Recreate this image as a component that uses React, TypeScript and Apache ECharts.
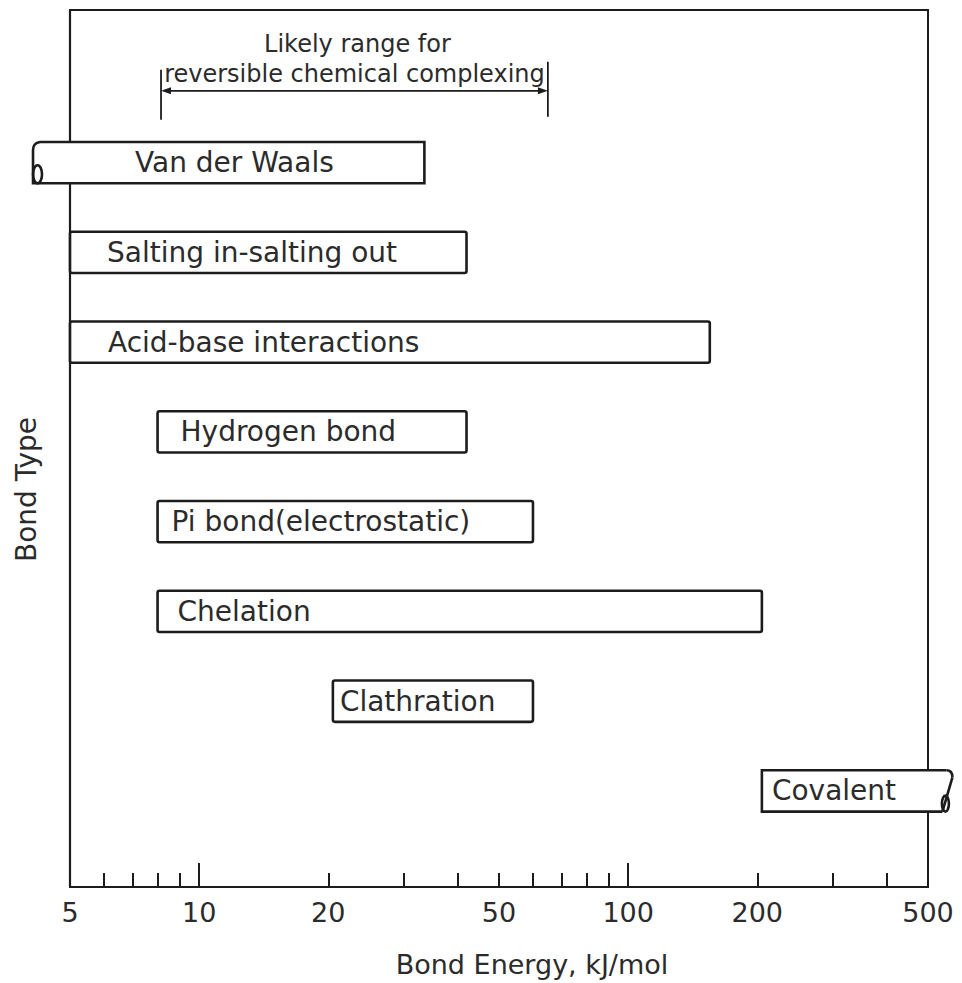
import React, { useEffect, useRef } from 'react';
import * as echarts from 'echarts';

// ---- data ----
const bondTypes = [
  'Van der Waals',
  'Salting in-salting out',
  'Acid-base interactions',
  'Hydrogen bond',
  'Pi bond(electrostatic)',
  'Chelation',
  'Clathration',
  'Covalent',
];
const energyLow = [4.1, 5, 5, 8, 8, 8, 20.5, 205];
const energyHigh = [33.5, 42, 155, 42, 60, 205, 60, 570];
const brokenEnd = ['left', '', '', '', '', '', '', 'right'];
const complexingRange = [8.15, 65];
const complexingText = ['Likely range for', 'reversible chemical complexing'];
const tickLabelValues = [5, 10, 20, 50, 100, 200, 500];
const majorTickValues = [10, 100];
const minorTickValues = [6, 7, 8, 9, 20, 30, 40, 50, 60, 70, 80, 90, 200, 300, 400];

// ---- styles ----
const INK = '#1c1c1c';
const TEXT = '#2b2b2b';
const FONT = 'DejaVu Sans';
const LABEL_PAD = [102, 37, 38, 23, 14, 20, 7, 10];

export default function App() {
  const ref = useRef<HTMLDivElement>(null);

  useEffect(() => {
    if (!ref.current) return;
    const chart = echarts.init(ref.current, undefined, { renderer: 'svg' });

    const barData = bondTypes.map((n, i) => [i, energyLow[i], energyHigh[i]]);

    const renderBar = (params: any, api: any) => {
      const i = api.value(0);
      const lo = api.coord([api.value(1), i]);
      const hi = api.coord([api.value(2), i]);
      const h = api.size([0, 1])[1] * 0.46;
      const x0 = lo[0];
      const x1 = hi[0];
      const yc = lo[1];
      const top = yc - h / 2;
      const bot = yc + h / 2;
      const lw = 2.6;
      const line = { stroke: INK, lineWidth: lw, fill: null };
      const children: any[] = [];
      const end = brokenEnd[i];
      if (end === 'left') {
        children.push({
          type: 'rect',
          shape: { x: x0, y: top, width: x1 - x0, height: h },
          style: { fill: '#fff', stroke: null },
        });
        children.push({
          type: 'polyline',
          shape: { points: [[x0 + 7, top], [x1, top], [x1, bot], [x0, bot], [x0, top + 8]] },
          style: { ...line },
        });
        children.push({
          type: 'bezierCurve',
          shape: { x1: x0, y1: top + 8, x2: x0 + 7, y2: top, cpx1: x0, cpy1: top + 1 },
          style: { ...line },
        });
        children.push({
          type: 'ellipse',
          shape: { cx: x0 + 4.5, cy: bot - 9, rx: 4.5, ry: 9 },
          style: { ...line },
        });
      } else if (end === 'right') {
        children.push({
          type: 'polygon',
          shape: { points: [[x0, top], [x1, top], [x1, top + 6], [x1 - 9, bot], [x0, bot]] },
          style: { fill: '#fff', stroke: null },
        });
        children.push({
          type: 'polyline',
          shape: { points: [[x1 - 6, top], [x0, top], [x0, bot], [x1 - 10, bot]] },
          style: { ...line },
        });
        children.push({
          type: 'bezierCurve',
          shape: { x1: x1 - 6, y1: top, x2: x1, y2: top + 7, cpx1: x1, cpy1: top },
          style: { ...line },
        });
        children.push({
          type: 'line',
          shape: { x1: x1, y1: top + 7, x2: x1 - 10, y2: bot },
          style: { ...line },
        });
        children.push({
          type: 'ellipse',
          shape: { cx: x1 - 7, cy: bot - 8, rx: 3.5, ry: 8 },
          style: { ...line },
        });
      } else {
        children.push({
          type: 'rect',
          shape: { x: x0, y: top, width: x1 - x0, height: h, r: 2 },
          style: { fill: '#fff', stroke: INK, lineWidth: lw },
        });
      }
      children.push({
        type: 'text',
        style: {
          text: bondTypes[i],
          x: x0 + LABEL_PAD[i],
          y: yc,
          verticalAlign: 'middle',
          align: 'left',
          fontSize: 28,
          fontFamily: FONT,
          fill: TEXT,
        },
      });
      return { type: 'group', children };
    };

    const renderRange = (params: any, api: any) => {
      const a = api.coord([api.value(0), api.value(2)]);
      const b = api.coord([api.value(1), api.value(2)]);
      const y = a[1];
      const xa = a[0];
      const xb = b[0];
      const mid = (xa + xb) / 2;
      const line = { stroke: INK, lineWidth: 1.8, fill: null };
      return {
        type: 'group',
        children: [
          { type: 'line', shape: { x1: xa, y1: y - 21, x2: xa, y2: y + 29 }, style: line },
          { type: 'line', shape: { x1: xb, y1: y - 29, x2: xb, y2: y + 26 }, style: line },
          { type: 'line', shape: { x1: xa + 6, y1: y, x2: xb - 6, y2: y }, style: line },
          { type: 'polygon', shape: { points: [[xa, y], [xa + 10, y - 3.5], [xa + 10, y + 3.5]] }, style: { fill: INK } },
          { type: 'polygon', shape: { points: [[xb, y], [xb - 10, y - 3.5], [xb - 10, y + 3.5]] }, style: { fill: INK } },
          {
            type: 'text',
            style: { text: complexingText[0], x: mid + 3, y: y - 47, align: 'center', verticalAlign: 'middle', fontSize: 24, fontFamily: FONT, fill: TEXT },
          },
          {
            type: 'text',
            style: { text: complexingText[1], x: mid, y: y - 17, align: 'center', verticalAlign: 'middle', fontSize: 24, fontFamily: FONT, fill: TEXT },
          },
        ],
      };
    };

    const logAxisBase = {
      type: 'log' as const,
      logBase: 10,
      min: 5,
      max: 500,
      gridIndex: 0,
      position: 'bottom' as const,
      splitLine: { show: false },
      minorTick: { show: false },
      minorSplitLine: { show: false },
    };

    chart.setOption({
      animation: false,
      backgroundColor: '#fff',
      grid: {
        left: 70,
        right: 34,
        top: 10,
        bottom: 95,
        show: true,
        borderColor: INK,
        borderWidth: 2,
        backgroundColor: 'transparent',
      },
      xAxis: [
        {
          ...logAxisBase,
          name: 'Bond Energy, kJ/mol',
          nameLocation: 'middle',
          nameGap: 64,
          nameTextStyle: { fontSize: 27, fontFamily: FONT, color: TEXT, padding: [0, 0, 0, 66] },
          axisLine: { show: true, onZero: false, lineStyle: { color: INK, width: 2.2 } },
          axisTick: { show: true, inside: true, length: 14, customValues: minorTickValues, lineStyle: { color: INK, width: 2 } },
          axisLabel: {
            show: true,
            customValues: tickLabelValues,
            formatter: (v: number) => String(Math.round(v)),
            fontSize: 27,
            fontFamily: FONT,
            color: TEXT,
            margin: 12,
          },
        },
        {
          ...logAxisBase,
          axisLine: { show: false, onZero: false },
          axisTick: { show: true, inside: true, length: 24, customValues: majorTickValues, lineStyle: { color: INK, width: 2 } },
          axisLabel: { show: false },
        },
      ],
      yAxis: {
        type: 'value',
        inverse: true,
        min: -1.7,
        max: 8.07,
        name: 'Bond Type',
        nameLocation: 'middle',
        nameGap: 30,
        nameRotate: 90,
        nameTextStyle: { fontSize: 28, fontFamily: FONT, color: TEXT, padding: [0, 82, 0, 0] },
        axisLine: { show: true, onZero: false, lineStyle: { color: INK, width: 2.2 } },
        axisTick: { show: false },
        axisLabel: { show: false },
        splitLine: { show: false },
      },
      series: [
        {
          type: 'custom',
          name: 'bonds',
          xAxisIndex: 0,
          clip: false,
          z: 5,
          renderItem: renderBar,
          encode: { x: [1, 2], y: 0 },
          data: barData,
        },
        {
          type: 'custom',
          name: 'complexing range',
          xAxisIndex: 0,
          clip: false,
          z: 5,
          renderItem: renderRange,
          encode: { x: [0, 1], y: 2 },
          data: [[complexingRange[0], complexingRange[1], -0.8]],
        },
      ],
    });

    return () => chart.dispose();
  }, []);

  return (
    <div
      ref={ref}
      style={{ position: 'absolute', left: 0, top: 0, width: 962, height: 983, background: '#fff' }}
    />
  );
}
